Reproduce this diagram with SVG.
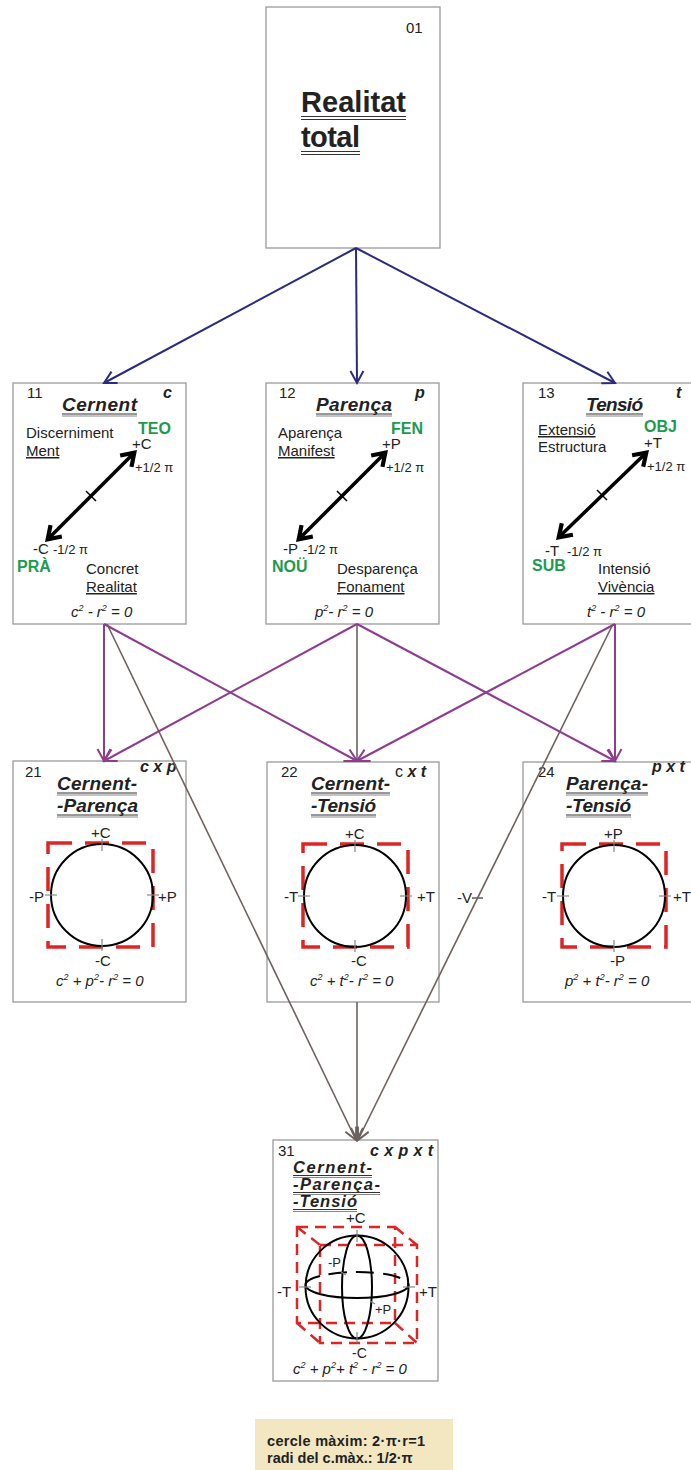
<svg xmlns="http://www.w3.org/2000/svg" width="691" height="1470" viewBox="0 0 691 1470">
<defs>
<style>
text{font-family:"Liberation Sans",Arial,sans-serif;fill:#222;}
.box{fill:#fff;stroke:#9a9a9a;stroke-width:1.3;}
.n{font-size:15px;}
.t{font-size:15px;}
.u{text-decoration:underline;}
.s{font-size:13px;}
.g{font-size:16px;font-weight:bold;fill:#1e9a4f;}
.h{font-size:19px;font-weight:bold;font-style:italic;}
.h3{font-size:16.5px;font-weight:bold;font-style:italic;}
.k{font-size:16px;font-weight:bold;font-style:italic;}
.eq{font-size:15px;font-style:italic;}
.sup{font-size:9px;}
.ul{stroke:#333;stroke-width:1;}
.ul2{stroke:#888;stroke-width:1;}
.dbl{stroke:#000;stroke-width:3.5;fill:none;}
.tk{stroke:#000;stroke-width:1.5;}
.circ{fill:none;stroke:#000;stroke-width:2;}
.sq{fill:none;stroke:#e02424;stroke-width:3.5;stroke-dasharray:24 13;}
.cube{fill:none;stroke:#e02424;stroke-width:2.5;stroke-dasharray:11 7;}
.gt{stroke:#888;stroke-width:1.2;}
.blue{stroke:#2a2a80;stroke-width:2;fill:none;}
.pur{stroke:#8e3d8e;stroke-width:2;fill:none;}
.gray{stroke:#6e625e;stroke-width:1.6;fill:none;}
</style>
<marker id="mb" viewBox="-16 -10 20 20" markerWidth="20" markerHeight="20" refX="0" refY="0" orient="auto" markerUnits="userSpaceOnUse"><path d="M-12,-6.5 L0,0 L-12,6.5" fill="none" stroke="#2a2a80" stroke-width="2"/></marker>
<marker id="mp" viewBox="-16 -10 20 20" markerWidth="20" markerHeight="20" refX="0" refY="0" orient="auto" markerUnits="userSpaceOnUse"><path d="M-12,-6.5 L0,0 L-12,6.5" fill="none" stroke="#8e3d8e" stroke-width="2"/></marker>
<marker id="mg" viewBox="-16 -10 20 20" markerWidth="20" markerHeight="20" refX="0" refY="0" orient="auto" markerUnits="userSpaceOnUse"><path d="M-12,-6 L0,0 L-12,6" fill="none" stroke="#6e625e" stroke-width="2"/></marker>
<marker id="mk" viewBox="-20 -12 24 24" markerWidth="24" markerHeight="24" refX="0" refY="0" orient="auto-start-reverse" markerUnits="userSpaceOnUse"><path d="M-13,-8 L-1,0 L-13,8" fill="none" stroke="#000" stroke-width="4.2"/></marker>
</defs>
<rect width="691" height="1470" fill="#fff"/>

<g id="n01">
<rect class="box" x="266" y="7" width="174" height="241"/>
<text class="n" x="406" y="33">01</text>
<text x="301" y="112" font-size="29" font-weight="bold" textLength="105">Realitat</text>
<text x="301" y="147" font-size="29" font-weight="bold" textLength="59">total</text>
<line class="ul" x1="301" y1="116.5" x2="406" y2="116.5"/><line class="ul" x1="301" y1="119.5" x2="406" y2="119.5"/>
<line class="ul" x1="301" y1="151.5" x2="360" y2="151.5"/><line class="ul" x1="301" y1="154.5" x2="360" y2="154.5"/>
</g>

<g id="n11">
<rect class="box" x="13" y="383" width="173" height="241"/>
<text class="n" x="27" y="398">11</text>
<text class="k" x="163" y="398">c</text>
<text class="h" x="62" y="411" textLength="75">Cernent</text>
<line class="ul" x1="62" y1="414" x2="137" y2="414"/><line class="ul2" x1="62" y1="416" x2="137" y2="416"/>
<text class="t" x="26" y="438">Discerniment</text>
<text class="t u" x="26" y="456">Ment</text>
<text class="g" x="138" y="434">TEO</text>
<text class="t" x="132" y="449">+C</text>
<text class="s" x="135" y="472">+1/2 π</text>
<line class="dbl" x1="47" y1="540" x2="135" y2="452" marker-start="url(#mk)" marker-end="url(#mk)"/>
<line class="tk" x1="86" y1="491" x2="96" y2="501"/>
<text class="t" x="33" y="554">-C</text><text class="s" x="53" y="554">-1/2 π</text>
<text class="g" x="17" y="572">PRÀ</text>
<text class="t" x="86" y="574">Concret</text>
<text class="t u" x="86" y="592">Realitat</text>
<text class="eq" x="71" y="617">c<tspan class="sup" dy="-6">2</tspan><tspan dy="6"> - r</tspan><tspan class="sup" dy="-6">2</tspan><tspan dy="6"> = 0</tspan></text>
</g>

<g id="n12">
<rect class="box" x="266" y="383" width="173" height="241"/>
<text class="n" x="279" y="398">12</text>
<text class="k" x="415" y="398">p</text>
<text class="h" x="316" y="411" textLength="76">Parença</text>
<line class="ul" x1="316" y1="414" x2="392" y2="414"/><line class="ul2" x1="316" y1="416" x2="392" y2="416"/>
<text class="t" x="278" y="438">Aparença</text>
<text class="t u" x="278" y="456">Manifest</text>
<text class="g" x="391" y="434">FEN</text>
<text class="t" x="382" y="449">+P</text>
<text class="s" x="386" y="472">+1/2 π</text>
<line class="dbl" x1="298" y1="540" x2="386" y2="452" marker-start="url(#mk)" marker-end="url(#mk)"/>
<line class="tk" x1="337" y1="491" x2="347" y2="501"/>
<text class="t" x="283" y="554">-P</text><text class="s" x="303" y="554">-1/2 π</text>
<text class="g" x="272" y="572">NOÜ</text>
<text class="t" x="337" y="574">Desparença</text>
<text class="t u" x="337" y="592">Fonament</text>
<text class="eq" x="315" y="617">p<tspan class="sup" dy="-6">2</tspan><tspan dy="6">- r</tspan><tspan class="sup" dy="-6">2</tspan><tspan dy="6"> = 0</tspan></text>
</g>

<g id="n13">
<rect class="box" x="523" y="383" width="173" height="241"/>
<text class="n" x="538" y="398">13</text>
<text class="k" x="676" y="398">t</text>
<text class="h" x="586" y="411" textLength="57">Tensió</text>
<line class="ul" x1="586" y1="414" x2="643" y2="414"/><line class="ul2" x1="586" y1="416" x2="643" y2="416"/>
<text class="t u" x="538" y="435">Extensió</text>
<text class="t" x="538" y="452">Estructura</text>
<text class="g" x="644" y="432">OBJ</text>
<text class="t" x="644" y="448">+T</text>
<text class="s" x="647" y="471">+1/2 π</text>
<line class="dbl" x1="558" y1="538" x2="647" y2="452" marker-start="url(#mk)" marker-end="url(#mk)"/>
<line class="tk" x1="597" y1="490" x2="607" y2="500"/>
<text class="t" x="545" y="556">-T</text><text class="s" x="567" y="556">-1/2 π</text>
<text class="g" x="532" y="571">SUB</text>
<text class="t" x="598" y="574">Intensió</text>
<text class="t u" x="598" y="592">Vivència</text>
<text class="eq" x="587" y="617">t<tspan class="sup" dy="-6">2</tspan><tspan dy="6"> - r</tspan><tspan class="sup" dy="-6">2</tspan><tspan dy="6"> = 0</tspan></text>
</g>

<g id="n21">
<rect class="box" x="13" y="761" width="173" height="241"/>
<text class="n" x="25" y="777">21</text>
<text class="k" x="140" y="772">c x p</text>
<text class="h" x="57" y="790" textLength="80">Cernent-</text>
<line class="ul" x1="57" y1="793" x2="137" y2="793"/><line class="ul2" x1="57" y1="795" x2="137" y2="795"/>
<text class="h" x="57" y="812" textLength="81">-Parença</text>
<line class="ul" x1="57" y1="815" x2="138" y2="815"/><line class="ul2" x1="57" y1="817" x2="138" y2="817"/>
<rect class="sq" x="48" y="843" width="105" height="104"/>
<circle class="circ" cx="102" cy="895" r="51"/>
<line class="gt" x1="102" y1="839" x2="102" y2="851"/><line class="gt" x1="102" y1="939" x2="102" y2="951"/>
<line class="gt" x1="45" y1="895" x2="57" y2="895"/><line class="gt" x1="147" y1="895" x2="159" y2="895"/>
<text class="t" x="91" y="838">+C</text>
<text class="t" x="29" y="902">-P</text><text class="t" x="158" y="902">+P</text>
<text class="t" x="95" y="966">-C</text>
<text class="eq" x="56" y="986">c<tspan class="sup" dy="-6">2</tspan><tspan dy="6"> + p</tspan><tspan class="sup" dy="-6">2</tspan><tspan dy="6">- r</tspan><tspan class="sup" dy="-6">2</tspan><tspan dy="6"> = 0</tspan></text>
</g>

<g id="n22">
<rect class="box" x="267" y="762" width="172" height="240"/>
<text class="n" x="281" y="777">22</text>
<text x="395" y="777" font-size="16">c<tspan class="k"> x t</tspan></text>
<text class="h" x="311" y="790" textLength="79">Cernent-</text>
<line class="ul" x1="311" y1="793" x2="390" y2="793"/><line class="ul2" x1="311" y1="795" x2="390" y2="795"/>
<text class="h" x="311" y="812" textLength="65">-Tensió</text>
<line class="ul" x1="311" y1="815" x2="376" y2="815"/><line class="ul2" x1="311" y1="817" x2="376" y2="817"/>
<rect class="sq" x="303" y="844" width="105" height="103"/>
<circle class="circ" cx="355" cy="896" r="51"/>
<line class="gt" x1="355" y1="840" x2="355" y2="852"/><line class="gt" x1="355" y1="940" x2="355" y2="952"/>
<line class="gt" x1="298" y1="896" x2="310" y2="896"/><line class="gt" x1="400" y1="896" x2="412" y2="896"/>
<text class="t" x="345" y="839">+C</text>
<text class="t" x="284" y="902">-T</text><text class="t" x="417" y="902">+T</text>
<text class="t" x="351" y="966">-C</text>
<text class="eq" x="310" y="986">c<tspan class="sup" dy="-6">2</tspan><tspan dy="6"> + t</tspan><tspan class="sup" dy="-6">2</tspan><tspan dy="6">- r</tspan><tspan class="sup" dy="-6">2</tspan><tspan dy="6"> = 0</tspan></text>
</g>

<g id="n24">
<rect class="box" x="523" y="762" width="173" height="240"/>
<text class="n" x="538" y="777">24</text>
<text class="k" x="652" y="772">p x t</text>
<text class="h" x="566" y="790" textLength="82">Parença-</text>
<line class="ul" x1="566" y1="793" x2="648" y2="793"/><line class="ul2" x1="566" y1="795" x2="648" y2="795"/>
<text class="h" x="566" y="812" textLength="65">-Tensió</text>
<line class="ul" x1="566" y1="815" x2="631" y2="815"/><line class="ul2" x1="566" y1="817" x2="631" y2="817"/>
<rect class="sq" x="562" y="844" width="104" height="103"/>
<circle class="circ" cx="614" cy="896" r="51"/>
<line class="gt" x1="614" y1="840" x2="614" y2="852"/><line class="gt" x1="614" y1="940" x2="614" y2="952"/>
<line class="gt" x1="557" y1="896" x2="569" y2="896"/><line class="gt" x1="659" y1="896" x2="671" y2="896"/>
<text class="t" x="604" y="839">+P</text>
<text class="t" x="542" y="902">-T</text><text class="t" x="673" y="902">+T</text>
<text class="t" x="610" y="966">-P</text>
<text class="eq" x="565" y="986">p<tspan class="sup" dy="-6">2</tspan><tspan dy="6"> + t</tspan><tspan class="sup" dy="-6">2</tspan><tspan dy="6">- r</tspan><tspan class="sup" dy="-6">2</tspan><tspan dy="6"> = 0</tspan></text>
</g>

<g id="n31">
<rect class="box" x="273" y="1140" width="165" height="241"/>
<text class="n" x="278" y="1156">31</text>
<text class="k" x="370" y="1156" textLength="63">c x p x t</text>
<text class="h3" x="293" y="1173" textLength="79">Cernent-</text>
<line class="ul" x1="293" y1="1175.5" x2="372" y2="1175.5"/><line class="ul2" x1="293" y1="1177.5" x2="372" y2="1177.5"/>
<text class="h3" x="293" y="1190" textLength="87">-Parença-</text>
<line class="ul" x1="293" y1="1192.5" x2="380" y2="1192.5"/><line class="ul2" x1="293" y1="1194.5" x2="380" y2="1194.5"/>
<text class="h3" x="293" y="1207" textLength="64">-Tensió</text>
<line class="ul" x1="293" y1="1209.5" x2="357" y2="1209.5"/><line class="ul2" x1="293" y1="1211.5" x2="357" y2="1211.5"/>
<rect class="cube" x="297" y="1227" width="98" height="96"/>
<rect class="cube" x="320" y="1245" width="97" height="98"/>
<line class="cube" x1="297" y1="1227" x2="320" y2="1245"/>
<line class="cube" x1="395" y1="1227" x2="417" y2="1245"/>
<line class="cube" x1="297" y1="1323" x2="320" y2="1343"/>
<line class="cube" x1="395" y1="1323" x2="417" y2="1343"/>
<circle class="circ" cx="357" cy="1287" r="51.5"/>
<ellipse class="circ" cx="357" cy="1287" rx="15" ry="51.5"/>
<path class="circ" d="M305.5,1285 A51.5,13 0 0 0 408.5,1285"/>
<path class="circ" d="M305.5,1285 A51.5,13 0 0 1 408.5,1285" stroke-dasharray="18 9"/>
<line class="gt" x1="357" y1="1230" x2="357" y2="1242"/><line class="gt" x1="357" y1="1332" x2="357" y2="1343"/>
<line class="gt" x1="299" y1="1287" x2="311" y2="1287"/><line class="gt" x1="403" y1="1287" x2="415" y2="1287"/>
<line class="gt" x1="341" y1="1272" x2="346" y2="1275"/><line class="gt" x1="370" y1="1301" x2="375" y2="1304"/>
<text class="t" x="346" y="1223">+C</text>
<text class="s" x="328" y="1267">-P</text>
<text class="s" x="375" y="1314">+P</text>
<text class="t" x="277" y="1297">-T</text><text class="t" x="419" y="1297">+T</text>
<text x="352" y="1358" font-size="14">-C</text>
<text class="eq" x="293" y="1374">c<tspan class="sup" dy="-6">2</tspan><tspan dy="6"> + p</tspan><tspan class="sup" dy="-6">2</tspan><tspan dy="6">+ t</tspan><tspan class="sup" dy="-6">2</tspan><tspan dy="6"> - r</tspan><tspan class="sup" dy="-6">2</tspan><tspan dy="6"> = 0</tspan></text>
</g>

<g id="connectors">
<line class="blue" x1="356" y1="248" x2="104" y2="383" marker-end="url(#mb)"/>
<line class="blue" x1="356" y1="248" x2="357" y2="383" marker-end="url(#mb)"/>
<line class="blue" x1="356" y1="248" x2="615" y2="383" marker-end="url(#mb)"/>
<line class="gray" x1="357" y1="624" x2="357" y2="762"/>
<line class="gray" x1="107" y1="624" x2="356" y2="1140" marker-end="url(#mg)"/>
<line class="gray" x1="613" y1="624" x2="358" y2="1140" marker-end="url(#mg)"/>
<line class="gray" x1="357" y1="1002" x2="357" y2="1140" marker-end="url(#mg)"/>
<line class="gray" x1="472" y1="898" x2="483" y2="898"/>
<line class="pur" x1="104" y1="624" x2="104" y2="761" marker-end="url(#mp)"/>
<line class="pur" x1="104" y1="624" x2="357" y2="761" marker-end="url(#mp)"/>
<line class="pur" x1="357" y1="624" x2="104" y2="761" marker-end="url(#mp)"/>
<line class="pur" x1="357" y1="624" x2="615" y2="761" marker-end="url(#mp)"/>
<line class="pur" x1="615" y1="624" x2="357" y2="761" marker-end="url(#mp)"/>
<line class="pur" x1="615" y1="624" x2="615" y2="761" marker-end="url(#mp)"/>
</g>
<text class="t" x="457" y="903">-V</text>

<g id="legend">
<rect x="255" y="1419" width="198" height="60" fill="#f3e7c1"/>
<text x="267" y="1446" font-size="14.5" font-weight="bold" fill="#333" textLength="158">cercle màxim: 2·π·r=1</text>
<text x="267" y="1463" font-size="14.5" font-weight="bold" fill="#333">radi del c.màx.: 1/2·π</text>
</g>
</svg>
